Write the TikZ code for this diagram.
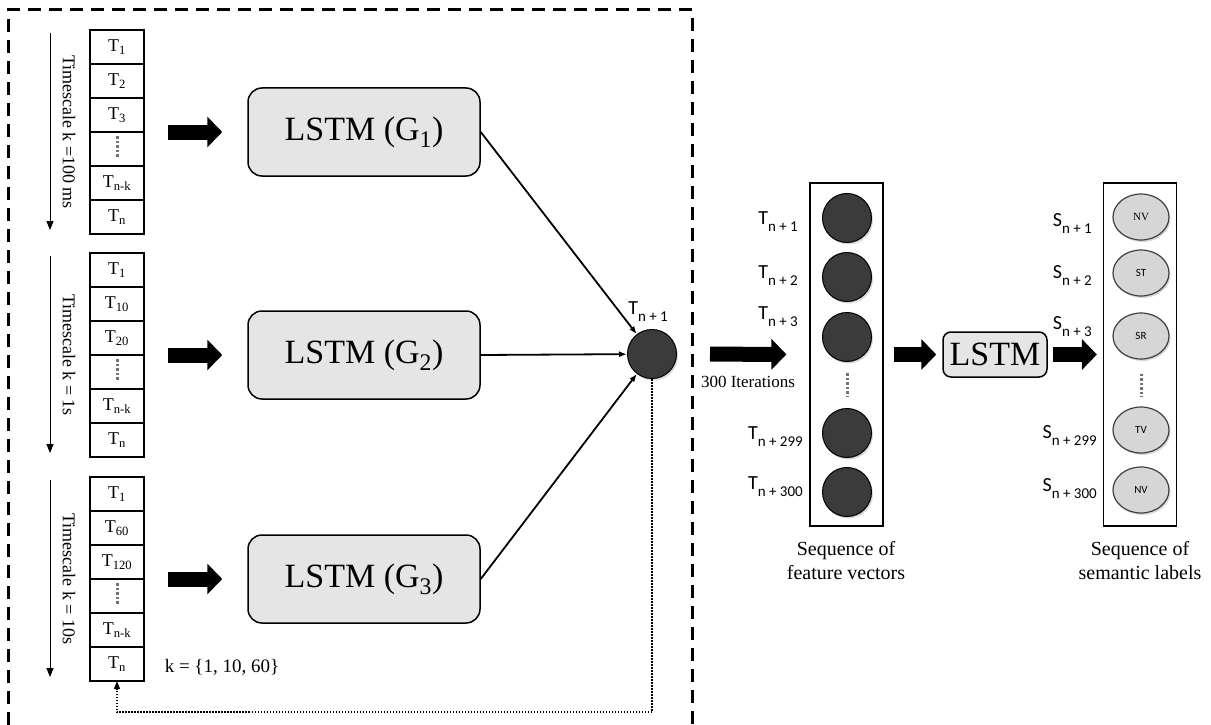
\documentclass[tikz,border=0pt]{standalone}
\usepackage{fontspec}
\setmainfont{Liberation Serif}
\newfontfamily\labfont{Carlito}
\usetikzlibrary{arrows.meta,calc,positioning,shadows,shapes.geometric}
\definecolor{lstmgray}{gray}{0.9}
\definecolor{nodedark}{gray}{0.23}
\definecolor{labelgray}{gray}{0.84}
\newcommand{\seqlab}[2]{#1\raisebox{-0.35em}{\fontsize{15}{15}\selectfont #2}}
\tikzset{
  frame/.style={
    line width=3pt,
    dash pattern=on 13pt off 8pt
  },
  cell/.style={
    draw,
    line width=1.2pt,
    outer sep=0pt,
    inner sep=0pt,
    minimum width=54pt,
    minimum height=34pt,
    font=\fontsize{18}{20}\selectfont
  },
  column/.style={
    outer sep=0pt,
    inner sep=0pt,
    minimum width=54pt,
    minimum height=204pt
  },
  lstm/.style={
    draw,
    line width=1.5pt,
    fill=lstmgray,
    rounded corners=14pt,
    minimum width=232pt,
    minimum height=88pt,
    font=\fontsize{34}{40}\selectfont
  },
  lstmsmall/.style={
    draw,
    line width=1.5pt,
    fill=lstmgray,
    rounded corners=8pt,
    minimum width=104pt,
    minimum height=45pt,
    font=\fontsize{34}{40}\selectfont
  },
  featnode/.style={
    circle,
    draw=black,
    line width=1pt,
    fill=nodedark,
    minimum size=49pt,
    inner sep=0pt,
    drop shadow={shadow xshift=1.5pt,shadow yshift=-2pt,opacity=0.3}
  },
  semnode/.style={
    ellipse,
    draw=black!75,
    line width=1.2pt,
    fill=labelgray,
    minimum width=56pt,
    minimum height=46pt,
    inner sep=0pt,
    font=\fontsize{11}{12}\selectfont,
    drop shadow={shadow xshift=1.5pt,shadow yshift=-2pt,opacity=0.3}
  },
  seqbox/.style={
    draw,
    line width=1.2pt,
    minimum width=73pt,
    minimum height=343pt,
    inner sep=0pt
  },
  seqtext/.style={
    font=\labfont\fontsize{20}{22}\selectfont,
    inner sep=0pt,
    anchor=east
  },
  caption/.style={
    align=center,
    font=\fontsize{20}{24}\selectfont
  },
  fatarrow/.style={
    line width=15pt,
    -{Triangle[length=15pt,width=30pt]}
  },
  link/.style={
    line width=1.8pt,
    -{Latex[length=8pt,width=6pt]}
  },
  timearrow/.style={
    line width=0.9pt,
    -{Triangle[length=9pt,width=7pt]}
  },
  feedback/.style={
    line width=1.3pt,
    dash pattern=on 1.5pt off 1.5pt,
    -{Triangle[length=8pt,width=6pt]}
  },
  vdots/.style={
    line width=3pt,
    black!55,
    dash pattern=on 2.5pt off 2pt
  }
}

\begin{document}
\begin{tikzpicture}[x=1pt,y=-1pt]
\useasboundingbox (0,0) rectangle (1211,725);
\draw[frame] (8,725) -- (8,10) -- (692,10) -- (692,725);

\foreach \i/\cy/\a/\b/\ts in {1/132/2/3/Timescale k =100 ms,
                              2/355/10/20/Timescale k = 1s,
                              3/579/60/120/Timescale k = 10s}{
  \node[column] (col\i) at (117,\cy) {};
  \node[cell,anchor=north] (c\i-1) at (col\i.north) {T\textsubscript{1}};
  \node[cell,below=0pt of c\i-1] (c\i-2) {T\textsubscript{\a}};
  \node[cell,below=0pt of c\i-2] (c\i-3) {T\textsubscript{\b}};
  \node[cell,below=0pt of c\i-3] (c\i-4) {};
  \node[cell,below=0pt of c\i-4] (c\i-5) {T\textsubscript{n-k}};
  \node[cell,below=0pt of c\i-5] (c\i-6) {T\textsubscript{n}};
  \draw[vdots] ($(c\i-4.north)+(0,4)$) -- ($(c\i-4.north)+(0,26)$);
  \draw[timearrow] ($(col\i.north west)+(-40,3)$) -- ($(col\i.south west)+(-40,-4)$);
  \node[rotate=-90,font=\fontsize{18}{20}\selectfont] (ts\i) at ($(col\i.west)+(-21,0)$) {\ts};
  \node[lstm] (g\i) at (364,\cy) {LSTM (G\textsubscript{\i})};
  \draw[fatarrow,shorten <=24pt,shorten >=25pt] (col\i.east) -- (g\i.west);
}
\node[font=\fontsize{19}{20}\selectfont] (kset) at (222,667) {k = \{1, 10, 60\}};

\node[featnode] (out) at (652,354) {};
\node[seqtext,anchor=center] (outlab) at (648,312) {\seqlab{T}{n + 1}};
\foreach \i in {1,2,3}{
  \draw[link] (g\i.east) -- (out);
}
\coordinate (fb) at (652,712);
\draw[feedback] (out.south) -- (fb) -| (c3-6.south);

\node[seqbox] (feat) at (846.5,354.5) {};
\foreach \j/\y/\ly/\lx/\s in {1/218/222/798/1, 2/277/276/798/2, 3/337/317/798/3,
                              4/433/437/803/299, 5/492/487/803/300}{
  \node[featnode] (f\j) at (847,\y) {};
  \node[seqtext] (ft\j) at (\lx,\ly) {\seqlab{T}{n + \s}};
}
\draw[vdots] ($(f3.south)+(0,11)$) -- ($(f4.north)+(0,-11)$);
\draw[fatarrow,shorten <=33pt,shorten >=23pt] (out.east) -- (feat.west);
\node[font=\fontsize{17}{18}\selectfont] (iter) at (748,382) {300 Iterations};
\node[caption] (featcap) at (846,561) {Sequence of\\feature vectors};

\node[lstmsmall] (cls) at (995,354.5) {LSTM};
\draw[fatarrow,shorten <=10pt,shorten >=6pt] (feat.east) -- (cls.west);

\node[seqbox] (sem) at (1140,354.5) {};
\foreach \j/\y/\ly/\lx/\s/\t in {1/217/224/1092/1/{\rmfamily NV}, 2/273/276/1092/2/{\labfont ST},
                                 3/336/327/1092/3/{\labfont SR}, 4/430/436/1097/299/{\labfont TV},
                                 5/490/489/1097/300/{\labfont NV}}{
  \node[semnode] (e\j) at (1141,\y) {\t};
  \node[seqtext] (st\j) at (\lx,\ly) {\seqlab{S}{n + \s}};
}
\draw[vdots] ($(e3.south)+(0,14)$) -- ($(e4.north)+(0,-10)$);
\draw[fatarrow,shorten <=5pt,shorten >=6pt] (cls.east) -- (sem.west);
\node[caption] (semcap) at (1140,561) {Sequence of\\semantic labels};
\end{tikzpicture}
\end{document}
